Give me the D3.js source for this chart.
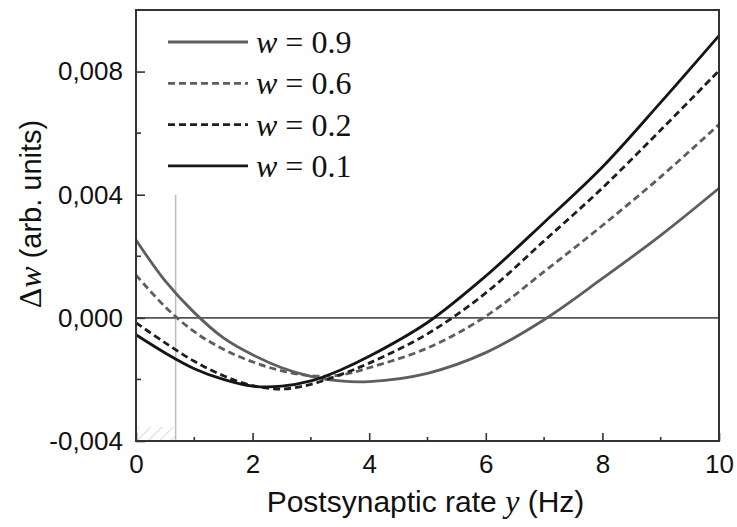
<!DOCTYPE html>
<html>
<head>
<meta charset="utf-8">
<style>
body { margin: 0; background: #fff; }
.axis-text { font-family: "Liberation Sans", Arial, sans-serif; font-size: 26px; fill: #111; }
.serif { font-family: "Liberation Serif", "Times New Roman", serif; }
.curve { fill: none; stroke-width: 2.8px; }
</style>
</head>
<body>
<script src="https://cdnjs.cloudflare.com/ajax/libs/d3/7.8.5/d3.min.js"></script>
<script>
/* global d3 */

// postsynaptic rate (Hz)
var rateY = [0, 0.5, 1, 1.5, 2, 2.5, 3, 3.5, 4, 5, 6, 7, 8, 9, 10];

// delta w for each w value
var dw09 = [0.00253, 0.00120, 0.00017, -0.00065, -0.00120, -0.00162, -0.00190, -0.00205, -0.00207, -0.00180, -0.00113, -0.00006, 0.00128, 0.00268, 0.00421];
var dw06 = [0.00139, 0.00036, -0.00045, -0.00102, -0.00143, -0.00172, -0.00188, -0.00186, -0.00162, -0.00098, 0.00005, 0.00150, 0.00300, 0.00458, 0.00628];
var dw02 = [-0.00016, -0.00081, -0.00141, -0.00188, -0.00220, -0.00231, -0.00216, -0.00185, -0.00147, -0.00052, 0.00081, 0.00250, 0.00422, 0.00610, 0.00803];
var dw01 = [-0.00055, -0.00114, -0.00165, -0.00200, -0.00222, -0.00222, -0.00205, -0.00170, -0.00125, -0.00015, 0.00136, 0.00310, 0.00490, 0.00700, 0.00917];

var legendLabels = ["0.9", "0.6", "0.2", "0.1"];
var xTicks = [0, 2, 4, 6, 8, 10];
var xMinor = [1, 3, 5, 7, 9];
var yTicks = [-0.004, 0, 0.004, 0.008];
var yMinor = [-0.002, 0.002, 0.006];
var threshold = 0.68;   // zero crossing of w = 0.6

var series = [
  { label: legendLabels[0], values: dw09, color: "#5e5e5e", dash: null },
  { label: legendLabels[1], values: dw06, color: "#5e5e5e", dash: "7,4" },
  { label: legendLabels[2], values: dw02, color: "#1e1e1e", dash: "7,4" },
  { label: legendLabels[3], values: dw01, color: "#151515", dash: null }
];

var W = 737, H = 527;
var m = { left: 136, right: 18, top: 10, bottom: 86 };

var svg = d3.select("body").append("svg")
    .attr("width", W)
    .attr("height", H);

var x = d3.scaleLinear().domain([0, 10]).range([m.left, W - m.right]);
var y = d3.scaleLinear().domain([-0.004, 0.010]).range([H - m.bottom, m.top]);

// hatch pattern for the small region under the threshold
var pat = svg.append("defs").append("pattern")
    .attr("id", "hatch")
    .attr("patternUnits", "userSpaceOnUse")
    .attr("width", 8).attr("height", 8)
    .attr("patternTransform", "rotate(45)");
pat.append("line")
    .attr("x1", 0).attr("y1", 0).attr("x2", 0).attr("y2", 8)
    .attr("stroke", "#c4c4c4").attr("stroke-width", 1.3);

svg.append("rect")
    .attr("x", x(0)).attr("y", y(-0.00355))
    .attr("width", x(threshold) - x(0))
    .attr("height", y(-0.004) - y(-0.00355))
    .attr("fill", "url(#hatch)");

svg.append("line")
    .attr("x1", x(threshold)).attr("x2", x(threshold))
    .attr("y1", y(0.004)).attr("y2", y(-0.004))
    .attr("stroke", "#bdbdbd").attr("stroke-width", 1.5);

// zero line
svg.append("line")
    .attr("x1", x(0)).attr("x2", x(10))
    .attr("y1", y(0)).attr("y2", y(0))
    .attr("stroke", "#555").attr("stroke-width", 1.6);

var line = d3.line()
    .x(function(d) { return x(d[0]); })
    .y(function(d) { return y(d[1]); })
    .curve(d3.curveCatmullRom.alpha(0.5));

svg.append("clipPath").attr("id", "clip")
  .append("rect")
    .attr("x", x(0)).attr("y", y(0.010))
    .attr("width", x(10) - x(0)).attr("height", y(-0.004) - y(0.010));

svg.append("g").attr("clip-path", "url(#clip)")
  .selectAll("path")
    .data(series)
  .enter().append("path")
    .attr("class", "curve")
    .attr("d", function(s) { return line(rateY.map(function(r, i) { return [r, s.values[i]]; })); })
    .attr("stroke", function(s) { return s.color; })
    .attr("stroke-dasharray", function(s) { return s.dash; });

// frame
svg.append("rect")
    .attr("x", x(0)).attr("y", y(0.010))
    .attr("width", x(10) - x(0)).attr("height", y(-0.004) - y(0.010))
    .attr("fill", "none").attr("stroke", "#333").attr("stroke-width", 2);

// ticks, pointing inward
var fmt = d3.format(".3f");

var xAxis = d3.axisBottom(x).tickValues(xTicks).tickSize(-8).tickPadding(14)
    .tickFormat(d3.format("d"));
var gx = svg.append("g").attr("transform", "translate(0," + y(-0.004) + ")").call(xAxis);
gx.select(".domain").remove();
gx.selectAll(".tick line").attr("stroke", "#333").attr("stroke-width", 1.6);
gx.selectAll(".tick text").attr("class", "axis-text").attr("font-size", null).attr("font-family", null);

gx.selectAll(".minor").data(xMinor).enter().append("line")
    .attr("x1", function(d) { return x(d); }).attr("x2", function(d) { return x(d); })
    .attr("y1", 0).attr("y2", -4)
    .attr("stroke", "#333").attr("stroke-width", 1.6);

var yAxis = d3.axisLeft(y).tickValues(yTicks).tickSize(-9).tickPadding(13)
    .tickFormat(function(d) { return fmt(d).replace(".", ",").replace("−", "-"); });
var gy = svg.append("g").attr("transform", "translate(" + x(0) + ",0)").call(yAxis);
gy.select(".domain").remove();
gy.selectAll(".tick line").attr("stroke", "#333").attr("stroke-width", 1.6);
gy.selectAll(".tick text").attr("class", "axis-text").attr("font-size", null).attr("font-family", null);

gy.selectAll(".minor").data(yMinor).enter().append("line")
    .attr("x1", 0).attr("x2", 5)
    .attr("y1", function(d) { return y(d); }).attr("y2", function(d) { return y(d); })
    .attr("stroke", "#333").attr("stroke-width", 1.6);

// axis titles
var xt = svg.append("text")
    .attr("class", "axis-text")
    .attr("x", (x(0) + x(10)) / 2 - 2).attr("y", 512)
    .attr("text-anchor", "middle")
    .style("font-size", "30px");
xt.append("tspan").text("Postsynaptic rate ");
xt.append("tspan").attr("class", "serif").attr("font-style", "italic").style("font-size", "32px").text("y");
xt.append("tspan").text(" (Hz)");

var yt = svg.append("text")
    .attr("class", "axis-text")
    .attr("transform", "translate(41,214) rotate(-90)")
    .attr("text-anchor", "middle")
    .style("font-size", "29px");
yt.append("tspan").attr("class", "serif").style("font-size", "32px").text("Δ");
yt.append("tspan").attr("class", "serif").attr("font-style", "italic").style("font-size", "32px").text("w");
yt.append("tspan").text(" (arb. units)");

// legend
var leg = svg.append("g").selectAll("g")
    .data(series)
  .enter().append("g")
    .attr("transform", function(d, i) { return "translate(168," + (42 + i * 41.3) + ")"; });

leg.append("line")
    .attr("x1", 0).attr("x2", 80)
    .attr("stroke", function(d) { return d.color; })
    .attr("stroke-width", 2.8)
    .attr("stroke-dasharray", function(d) { return d.dash; });

var lt = leg.append("text")
    .attr("class", "serif")
    .attr("x", 88).attr("y", 11)
    .style("font-size", "32px")
    .attr("fill", "#111");
lt.append("tspan").attr("font-style", "italic").text("w");
lt.append("tspan").text(function(d) { return " = " + d.label; });
</script>
</body>
</html>
